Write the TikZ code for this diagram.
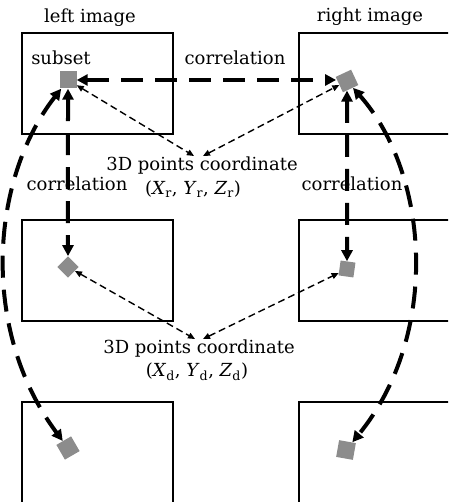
\documentclass[tikz,border=0pt]{standalone}
\usepackage{fontspec}
\setmainfont{DejaVu Serif}
\usetikzlibrary{arrows.meta,positioning}

\begin{document}
\begin{tikzpicture}[
  x=1pt, y=-1pt,
  every node/.style={font=\fontsize{18}{21}\selectfont, inner sep=1pt},
  imagebox/.style={draw, line width=2pt, minimum width=151pt, minimum height=101pt, inner sep=0pt},
  patch/.style={fill=black!45, minimum size=17pt, inner sep=0pt},
  bigdash/.style={line width=4pt, dash pattern=on 22pt off 12pt, {Triangle[length=11pt,width=11pt]}-{Triangle[length=11pt,width=11pt]}},
  thindash/.style={line width=1.4pt, dash pattern=on 7pt off 4pt, {Triangle[length=7pt,width=6pt]}-{Triangle[length=7pt,width=6pt]}}
]
\clip (0,0) rectangle (448,502);
\node[imagebox] (left1) at (97.5,83.5) {};
\node[imagebox] (left2) at (97.5,270.5) {};
\node[imagebox] (left3) at (97.5,452.5) {};
\node[imagebox] (right1) at (374.5,83.5) {};
\node[imagebox] (right2) at (374.5,270.5) {};
\node[imagebox] (right3) at (374.5,452.5) {};

\node (lefttitle) at (90,18) {left image};
\node (righttitle) at (370,17) {right image};
\node (subsetlabel) at (61,58) {subset};
\node (corrtop) at (235,58) {correlation};
\node (corrleft) at (77,184) {correlation};
\node (corrright) at (352,184) {correlation};
\node (pointsr) at (202,166) {3D points coordinate};
\node (xyzr) at (193,189) {(\textit{X}\textsubscript{r}, \textit{Y}\textsubscript{r}, \textit{Z}\textsubscript{r})};
\node (pointsd) at (199,349) {3D points coordinate};
\node (xyzd) at (197,372) {(\textit{X}\textsubscript{d}, \textit{Y}\textsubscript{d}, \textit{Z}\textsubscript{d})};
\coordinate (meetr1) at (194,156);
\coordinate (meetr2) at (203,156);
\coordinate (meetd1) at (195,339);
\coordinate (meetd2) at (203,339);

\node[patch] (lsq1) at (68,80) {};
\node[patch, rotate=25] (rsq1) at (347,81) {};
\node[patch, minimum size=15pt, rotate=45] (lsq2) at (68,267) {};
\node[patch, minimum size=15pt, rotate=-8] (rsq2) at (347,269) {};
\node[patch, rotate=30] (lsq3) at (68,448) {};
\node[patch, rotate=-10] (rsq3) at (346,450) {};

\draw[bigdash, shorten >=3pt] (lsq1.east) -- (lsq1.east -| rsq1.west);
\draw[bigdash] (lsq1) -- (lsq2);
\draw[bigdash] (rsq1) -- (rsq2);
\draw[bigdash] (lsq1) .. controls (-10,180) and (-20,330) .. (lsq3);
\draw[bigdash] (rsq1) .. controls (430,175) and (440,335) .. (rsq3);
\draw[thindash] (lsq1) -- (meetr1);
\draw[thindash] (meetr2) -- (rsq1);
\draw[thindash] (lsq2) -- (meetd1);
\draw[thindash] (meetd2) -- (rsq2);
\end{tikzpicture}
\end{document}
